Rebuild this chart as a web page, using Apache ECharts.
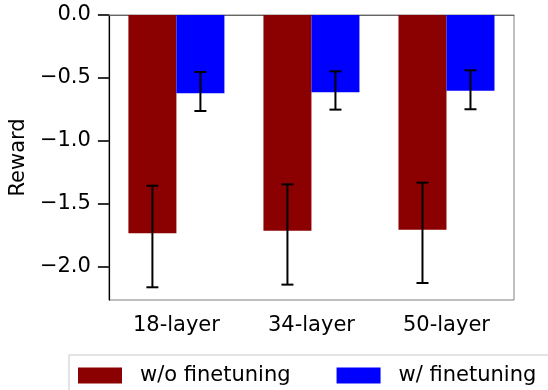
<!DOCTYPE html>
<html>
<head>
<meta charset="utf-8">
<script src="https://cdn.jsdelivr.net/npm/echarts@6/dist/echarts.min.js"></script>
<style>
  html, body { margin: 0; padding: 0; background: #fff; }
  #chart { width: 548px; height: 390px; }
</style>
</head>
<body>
<div id="chart"></div>
<script>
const categories = ["18-layer", "34-layer", "50-layer"];
const seriesNames = ["w/o finetuning", "w/ finetuning"];
// mean reward per model
const woFinetune = [-1.733, -1.712, -1.704];
const wFinetune = [-0.622, -0.614, -0.601];
// error bar ends (low, high)
const woLow = [-2.161, -2.140, -2.127];
const woHigh = [-1.355, -1.344, -1.331];
const wLow = [-0.762, -0.751, -0.748];
const wHigh = [-0.452, -0.447, -0.439];
const yTicks = [0, -0.5, -1.0, -1.5, -2.0];

const font = "DejaVu Sans";
const fontSize = 21;
const barWidth = 48;

function errorSeries(low, high, offset) {
  return {
    type: "custom",
    silent: true,
    z: 5,
    data: low.map((v, i) => [i, v, high[i]]),
    encode: { x: 0, y: [1, 2] },
    renderItem(params, api) {
      const lo = api.coord([api.value(0), api.value(1)]);
      const hi = api.coord([api.value(0), api.value(2)]);
      const x = lo[0] + offset;
      const cap = 6;
      const style = { stroke: "#000", lineWidth: 2 };
      return {
        type: "group",
        children: [
          { type: "line", shape: { x1: x, y1: lo[1], x2: x, y2: hi[1] }, style },
          { type: "line", shape: { x1: x - cap, y1: lo[1], x2: x + cap, y2: lo[1] }, style },
          { type: "line", shape: { x1: x - cap, y1: hi[1], x2: x + cap, y2: hi[1] }, style }
        ]
      };
    }
  };
}

const chart = echarts.init(document.getElementById("chart"));
chart.setOption({
  animation: false,
  textStyle: { fontFamily: font },
  grid: {
    left: 107,
    right: 34,
    top: 15,
    bottom: 90,
    show: true,
    borderColor: "#7f7f7f",
    borderWidth: 1
  },
  legend: {
    data: seriesNames,
    left: 69,
    top: 355,
    width: 560,
    icon: "rect",
    itemWidth: 44,
    itemHeight: 16,
    itemGap: 46,
    padding: [10, 60, 40, 9],
    borderColor: "#dcdcdc",
    borderWidth: 1.5,
    textStyle: {
      fontFamily: font,
      fontSize: fontSize,
      color: "#000",
      lineHeight: 16,
      padding: [0, 0, 0, 13]
    }
  },
  xAxis: {
    type: "category",
    data: categories,
    axisLine: { lineStyle: { color: "#666", width: 1 } },
    axisTick: {
      alignWithLabel: true,
      length: 11,
      lineStyle: { color: "#000", width: 1.6 }
    },
    axisLabel: {
      fontFamily: font,
      fontSize: fontSize,
      color: "#000",
      margin: 15
    },
    splitLine: { show: false }
  },
  yAxis: {
    type: "value",
    min: -2.262,
    max: 0,
    name: "Reward",
    nameLocation: "middle",
    nameGap: 77,
    nameTextStyle: { fontFamily: font, fontSize: fontSize, color: "#000" },
    axisLine: { show: true, lineStyle: { color: "#000", width: 1.2 } },
    axisTick: {
      show: true,
      length: 11,
      customValues: yTicks,
      lineStyle: { color: "#000", width: 1.6 }
    },
    axisLabel: {
      fontFamily: font,
      fontSize: fontSize,
      color: "#000",
      margin: 18,
      customValues: yTicks,
      formatter: v => v.toFixed(1).replace("-", "\u2212")
    },
    splitLine: { show: false }
  },
  series: [
    {
      name: seriesNames[0],
      type: "bar",
      data: woFinetune,
      barWidth: barWidth,
      barGap: "0%",
      itemStyle: { color: "#8b0000" }
    },
    {
      name: seriesNames[1],
      type: "bar",
      data: wFinetune,
      barWidth: barWidth,
      barGap: "0%",
      itemStyle: { color: "#0000ff" }
    },
    errorSeries(woLow, woHigh, -barWidth / 2),
    errorSeries(wLow, wHigh, barWidth / 2)
  ]
});
</script>
</body>
</html>
